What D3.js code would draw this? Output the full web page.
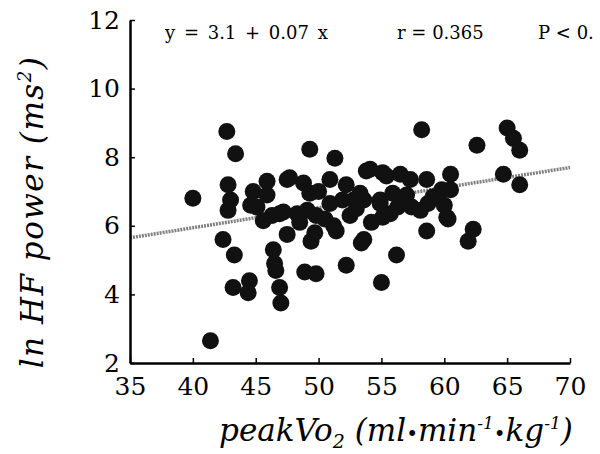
<!DOCTYPE html>
<html>
<head>
<meta charset="utf-8">
<script src="https://cdn.jsdelivr.net/npm/d3@7"></script>
<style>
  body { margin: 0; background: #fff; }
  svg { display: block; font-family: "DejaVu Serif", "Liberation Serif", serif; }
</style>
</head>
<body>
<div id="chart"></div>
<script>
// peakVO2 (x) vs ln HF power (y)
const peakVo2 = [
  40.0, 41.4, 42.7, 43.4, 42.8, 43.0, 42.8, 42.4, 43.3, 43.2,
  44.5, 44.4, 46.9, 47.0, 46.4, 46.5, 46.6, 47.5, 49.4, 48.9,
  49.8, 52.2, 49.3, 51.3, 44.8, 45.1, 45.9, 47.5, 48.8, 49.3,
  45.6, 46.9, 48.3, 49.8, 50.9, 52.2, 50.9, 51.2, 53.6, 53.6,
  53.8, 58.2, 62.6, 65.0, 65.5, 66.0, 64.7, 66.0, 60.5, 60.5,
  60.2, 58.6, 58.6, 62.3, 61.9, 56.2, 55.0, 53.4, 55.1, 56.5,
  57.3, 53.3, 54.9, 56.3, 57.4, 58.7, 60.0, 55.1, 51.4, 49.7,
  51.9, 59.8, 49.1, 47.7, 46.3, 47.2, 52.8, 54.1, 55.4, 54.9,
  55.9, 56.5, 58.1, 59.1, 60.3, 55.7, 45.9, 44.6, 50.5, 52.5,
  53.0, 57.0, 54.2, 50.0, 48.5
];
const lnHF = [
  6.80, 2.65, 8.75, 8.10, 7.20, 6.75, 6.45, 5.60, 5.15, 4.20,
  4.40, 4.05, 4.20, 3.75, 5.30, 4.90, 4.70, 5.75, 5.55, 4.65,
  4.60, 4.85, 8.23, 7.97, 7.00, 6.55, 7.30, 7.35, 7.25, 6.95,
  6.15, 6.35, 6.35, 6.30, 7.35, 7.20, 6.65, 6.00, 6.75, 5.60,
  7.60, 8.80, 8.35, 8.85, 8.55, 8.20, 7.50, 7.20, 7.50, 7.05,
  6.25, 7.35, 5.85, 5.90, 5.55, 5.15, 4.35, 5.50, 7.55, 7.50,
  7.35, 6.95, 6.65, 6.55, 6.55, 6.65, 6.60, 6.25, 5.85, 5.80,
  6.75, 7.05, 6.45, 7.40, 6.30, 6.40, 6.75, 7.65, 7.45, 6.75,
  6.95, 6.75, 6.45, 6.85, 6.20, 6.35, 6.90, 6.60, 6.20, 6.30,
  6.50, 6.90, 6.10, 7.00, 6.10
];
// fitted line as drawn, endpoints at x = 35 and x = 70
const fitX = [35, 70];
const fitY = [5.65, 7.7];

const xTicks = [35, 40, 45, 50, 55, 60, 65, 70];
const yTicks = [2, 4, 6, 8, 10, 12];
const statLabels = ['y = 3.1 + 0.07 x', 'r = 0.365', 'P < 0.'];

let margin = { top: 20, left: 130, right: 30, bottom: 91 },
    W = 600,
    H = 454;

let svg = d3.select('#chart')
    .append('svg')
    .attr('width', W)
    .attr('height', H);

let x = d3.scaleLinear()
    .domain([35, 70])
    .range([margin.left, W - margin.right]);

let y = d3.scaleLinear()
    .domain([2, 12])
    .range([H - margin.bottom, margin.top]);

let pts = peakVo2.map((v, i) => ({ x: v, y: lnHF[i] }));

// regression line (grey, grainy in the scan)
svg.append('line')
    .attr('x1', x(fitX[0]))
    .attr('y1', y(fitY[0]))
    .attr('x2', x(fitX[1]))
    .attr('y2', y(fitY[1]))
    .attr('stroke', '#808080')
    .attr('stroke-width', 3.5)
    .attr('stroke-dasharray', '2,1');

// points
svg.append('g')
    .selectAll('circle')
    .data(pts).enter()
    .append('circle')
    .attr('cx', d => x(d.x))
    .attr('cy', d => y(d.y))
    .attr('r', 8.5)
    .attr('fill', '#111');

// axes, ticks pointing inside
let xAxis = svg.append('g')
    .attr('transform', `translate(0,${H - margin.bottom})`)
    .call(d3.axisBottom(x).tickValues(xTicks).tickSizeInner(-5).tickSizeOuter(0).tickPadding(14));

let yAxis = svg.append('g')
    .attr('transform', `translate(${margin.left},0)`)
    .call(d3.axisLeft(y).tickValues(yTicks).tickSizeInner(-5).tickSizeOuter(0).tickPadding(10));

[xAxis, yAxis].forEach(a => {
    a.select('.domain').attr('stroke', '#000').attr('stroke-width', 2.5);
    a.selectAll('.tick line').attr('stroke', '#000').attr('stroke-width', 1.5);
    a.selectAll('.tick text')
        .attr('fill', '#000')
        .attr('font-family', '"DejaVu Serif", serif')
        .attr('font-size', 25);
});

// stats line across the top
let statX = [165, 397, 538];
svg.selectAll('.stat')
    .data(statLabels).enter()
    .append('text')
    .attr('class', 'stat')
    .attr('x', (d, i) => statX[i])
    .attr('y', 39)
    .attr('font-size', 18)
    .attr('word-spacing', (d, i) => i == 0 ? 3 : 0)
    .text(d => d);

// x title
let xt = svg.append('text')
    .attr('x', 396)
    .attr('y', 441)
    .attr('text-anchor', 'middle')
    .attr('font-style', 'italic')
    .attr('font-size', 31);
xt.append('tspan').text('peakV');
xt.append('tspan').text('o');
xt.append('tspan').attr('font-size', 19).attr('dy', 7).text('2');
xt.append('tspan').attr('dy', -7).text(' (ml');
xt.append('tspan').attr('font-size', 20).text('•');
xt.append('tspan').text('min');
xt.append('tspan').attr('font-size', 17).attr('dy', -12).text('-1');
xt.append('tspan').attr('font-size', 20).attr('dy', 12).text('•');
xt.append('tspan').text('kg');
xt.append('tspan').attr('font-size', 17).attr('dy', -12).text('-1');
xt.append('tspan').attr('dy', 12).text(')');

// y title
let yt = svg.append('text')
    .attr('transform', 'translate(43,212) rotate(-90)')
    .attr('text-anchor', 'middle')
    .attr('font-style', 'italic')
    .attr('font-size', 31)
    .attr('letter-spacing', 1.5);
yt.append('tspan').text('ln HF power (ms');
yt.append('tspan').attr('font-size', 18).attr('dy', -12).text('2');
yt.append('tspan').attr('dy', 12).text(')');
</script>
</body>
</html>
